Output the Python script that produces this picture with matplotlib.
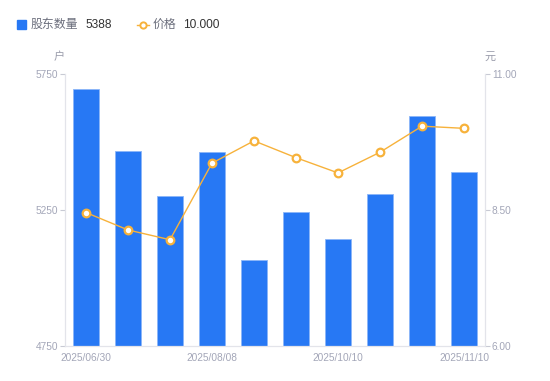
import matplotlib
matplotlib.use('Agg')
import matplotlib.pyplot as plt
from matplotlib.lines import Line2D
from matplotlib.patches import Rectangle
import numpy as np

plt.rcParams['font.family'] = ['Liberation Sans', 'Noto Sans CJK SC', 'DejaVu Sans']

# data
dates = ['2025/06/30', '2025/07/10', '2025/07/31', '2025/08/08', '2025/08/29',
         '2025/09/19', '2025/10/10', '2025/10/20', '2025/10/31', '2025/11/10']
holders = [5694, 5467, 5302, 5463, 5065, 5241, 5143, 5308, 5595, 5388]
price = [8.45, 8.13, 7.95, 9.36, 9.77, 9.46, 9.18, 9.56, 10.04, 10.00]

left_ticks = [4750, 5250, 5750]
right_ticks = [6.00, 8.50, 11.00]
shown_dates = ['2025/06/30', '2025/08/08', '2025/10/10', '2025/11/10']

bar_color = '#2778f4'
line_color = '#f7b23b'
axis_color = '#e3e4ea'
tick_text = '#a3a6b8'

fig = plt.figure(figsize=(5.5, 3.81), dpi=100)
ax = fig.add_axes([65 / 550, 1 - 345.7 / 381, 420 / 550, 271.7 / 381])
ax2 = ax.twinx()

x = np.arange(len(dates))
ax.bar(x, holders, width=0.6, color=bar_color, edgecolor='#8cb6f8', linewidth=0.6, zorder=2)
ax2.plot(x, price, color=line_color, lw=1.0, marker='o', ms=5.5, mfc='white',
         mec=line_color, mew=1.6, zorder=3)

ax.set_xlim(-0.5, len(dates) - 0.5)
ax.set_ylim(left_ticks[0], left_ticks[-1])
ax2.set_ylim(right_ticks[0], right_ticks[-1])

ax.set_yticks(left_ticks)
ax.set_yticklabels([str(v) for v in left_ticks])
ax2.set_yticks(right_ticks)
ax2.set_yticklabels([f'{v:.2f}' for v in right_ticks])
ax.set_xticks([dates.index(d) for d in shown_dates])
ax.set_xticklabels(shown_dates)

for a in (ax, ax2):
    for s in a.spines.values():
        s.set_color(axis_color)
        s.set_linewidth(0.9)
    a.spines['top'].set_visible(False)
ax.spines['right'].set_visible(False)
ax2.spines['left'].set_visible(False)
ax2.spines['bottom'].set_visible(False)

ax.tick_params(axis='y', length=3.5, width=0.8, color='#c8cad4', labelcolor=tick_text,
               labelsize=7.3, pad=1.5)
ax.tick_params(axis='x', length=0, labelcolor=tick_text, labelsize=7.3, pad=5)
ax2.tick_params(axis='y', length=3.5, width=0.8, color='#c8cad4', labelcolor=tick_text,
                labelsize=7.3, pad=1.5)
ax2.set_zorder(ax.get_zorder() + 1)
ax2.patch.set_visible(False)

# axis unit labels
ax.text(-6 / 420, 1 + 17 / 271.7, '户', transform=ax.transAxes, ha='center', va='center',
        color='#9a9cab', fontsize=8)
ax.text(1 + 5 / 420, 1 + 17 / 271.7, '元', transform=ax.transAxes, ha='center', va='center',
        color='#9a9cab', fontsize=8)

# legend row
def fx(px):
    return px / 550

def fy(py):
    return 1 - py / 381

fig.patches.append(Rectangle((fx(17), fy(29)), 8.5 / 550, 8.5 / 381, transform=fig.transFigure,
                             color=bar_color, figure=fig))
fig.text(fx(31), fy(24.5), '股东数量', color='#6b6e7c', fontsize=8.6, va='center')
fig.text(fx(85), fy(24.5), f'{holders[-1]}', color='#333333', fontsize=8.6, va='center')
fig.lines.append(Line2D([fx(137), fx(149)], [fy(24.5), fy(24.5)], transform=fig.transFigure,
                        color=line_color, lw=1.0, figure=fig))
fig.lines.append(Line2D([fx(143)], [fy(24.5)], transform=fig.transFigure, marker='o', ms=4.5,
                        mfc='white', mec=line_color, mew=1.4, figure=fig))
fig.text(fx(153), fy(24.5), '价格', color='#6b6e7c', fontsize=8.6, va='center')
fig.text(fx(183), fy(24.5), f'{price[-1]:.3f}', color='#333333', fontsize=8.6, va='center')

fig.savefig('out.png', dpi=100)
